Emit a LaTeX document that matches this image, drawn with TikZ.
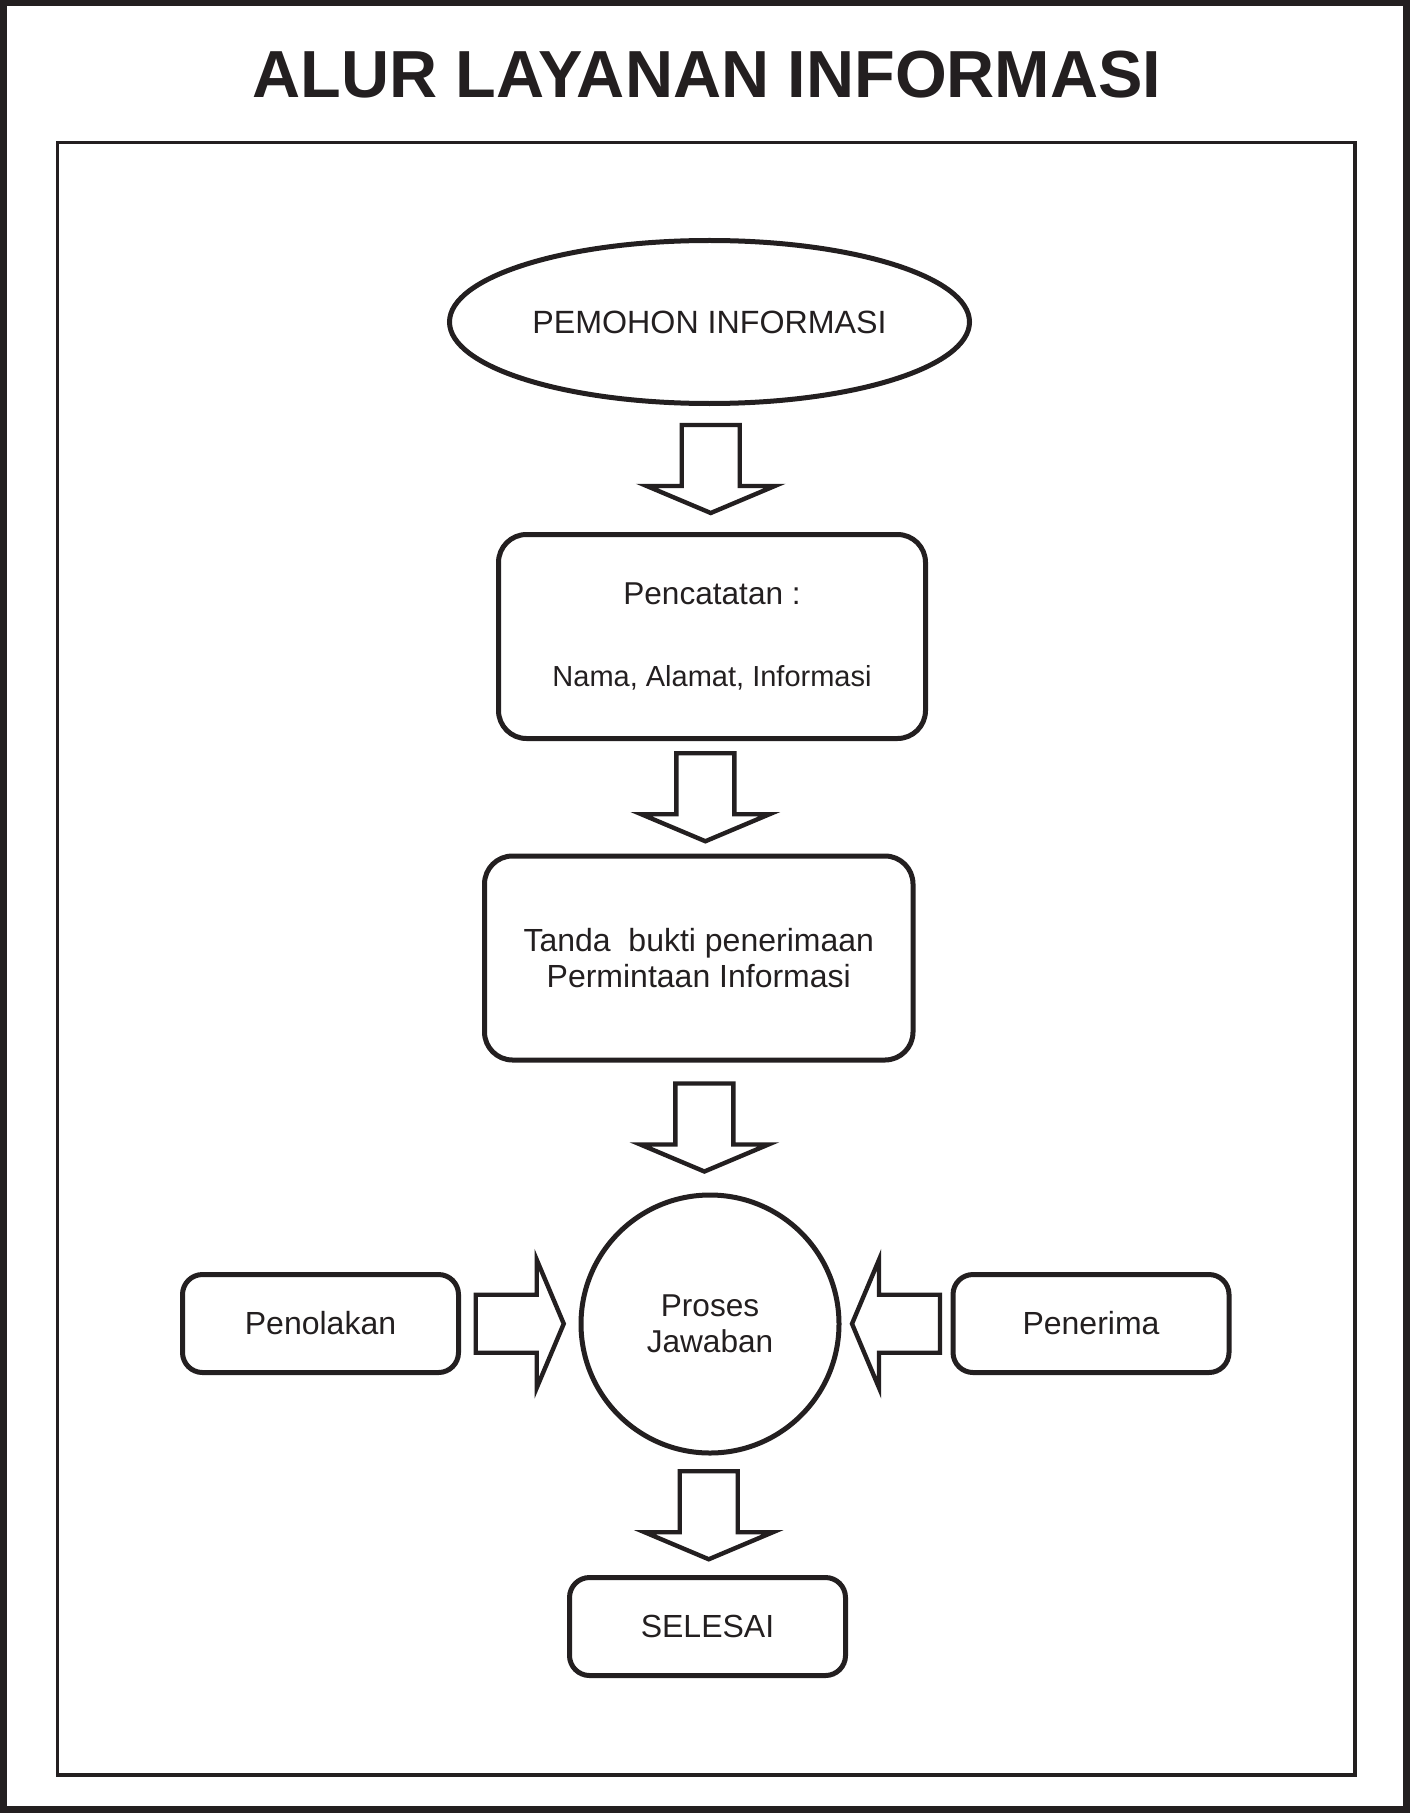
\documentclass[tikz,border=0pt]{standalone}
\usepackage{fontspec}
\setmainfont{Liberation Sans}
\usetikzlibrary{shapes.geometric,calc}
\definecolor{ink}{HTML}{231F20}
\tikzset{
	box/.style={draw=ink,line width=2.5pt,rounded corners=10pt,inner sep=0pt,text=ink,font=\fontsize{16}{18}\selectfont},
	bigbox/.style={box,rounded corners=14pt,minimum height=102pt,align=center},
	smallbox/.style={box,minimum width=138pt,minimum height=49pt},
	blkarrow/.pic={\draw[ink,line width=2.2pt,fill=white] (-22pt,14.5pt) -- (8.5pt,14.5pt) -- (8.5pt,32pt) -- (22pt,0pt) -- (8.5pt,-32pt) -- (8.5pt,-14.5pt) -- (-22pt,-14.5pt) -- cycle;}
}
\begin{document}
\begin{tikzpicture}[x=0.5pt,y=-0.5pt]
			\useasboundingbox (0,0) rectangle (1411,1813);
			\draw[ink,line width=3.5pt] (3.5,3) rectangle (1406,1809);
			\draw[ink,line width=1.75pt] (57.5,142.5) rectangle (1355,1775);
			\node[anchor=base,text=ink,font=\fontsize{33.3}{40}\selectfont\bfseries] (title) at (707,98) {ALUR LAYANAN INFORMASI};

			\node[ellipse,draw=ink,line width=2.5pt,minimum width=260pt,minimum height=81.5pt,inner sep=0pt,text=ink,font=\fontsize{16.1}{18}\selectfont] (pemohon) at (709.5,322) {PEMOHON INFORMASI};
			\node[bigbox,minimum width=213.5pt,font=\fontsize{14.5}{18.5}\selectfont] (catat) at (712,636.5) {{\fontsize{15.8}{18.5}\selectfont Pencatatan :}\\[22.5pt]Nama, Alamat, Informasi};
			\node[bigbox,minimum width=214.25pt,font=\fontsize{16}{18}\selectfont] (tanda) at (698.75,958) {Tanda\ \ bukti penerimaan\\Permintaan Informasi};
			\node[circle,draw=ink,line width=2.5pt,minimum size=129pt,inner sep=0pt,align=center,text=ink,font=\fontsize{15.8}{18}\selectfont] (proses) at (710,1324) {Proses\\Jawaban};
			\node[smallbox] (tolak) at (320.5,1323.5) {Penolakan};
			\node[smallbox] (terima) at (1091,1323.5) {Penerima};
			\node[smallbox] (selesai) at (707.5,1626.5) {SELESAI};

			\pic[rotate=-90] at ($(pemohon.south)!0.5!(catat.north)$) {blkarrow};
			\pic[rotate=-90] at ($(catat.south)!0.5!(tanda.north)$) {blkarrow};
			\pic[rotate=-90] at ($(tanda.south)!0.5!(proses.north)$) {blkarrow};
			\pic[rotate=-90] at ($(proses.south)!0.5!(selesai.north)$) {blkarrow};
			\pic at ($(tolak.east)!0.5!(proses.west)$) {blkarrow};
			\pic[rotate=180] at ($(terima.west)!0.5!(proses.east)$) {blkarrow};
\end{tikzpicture}
\end{document}
